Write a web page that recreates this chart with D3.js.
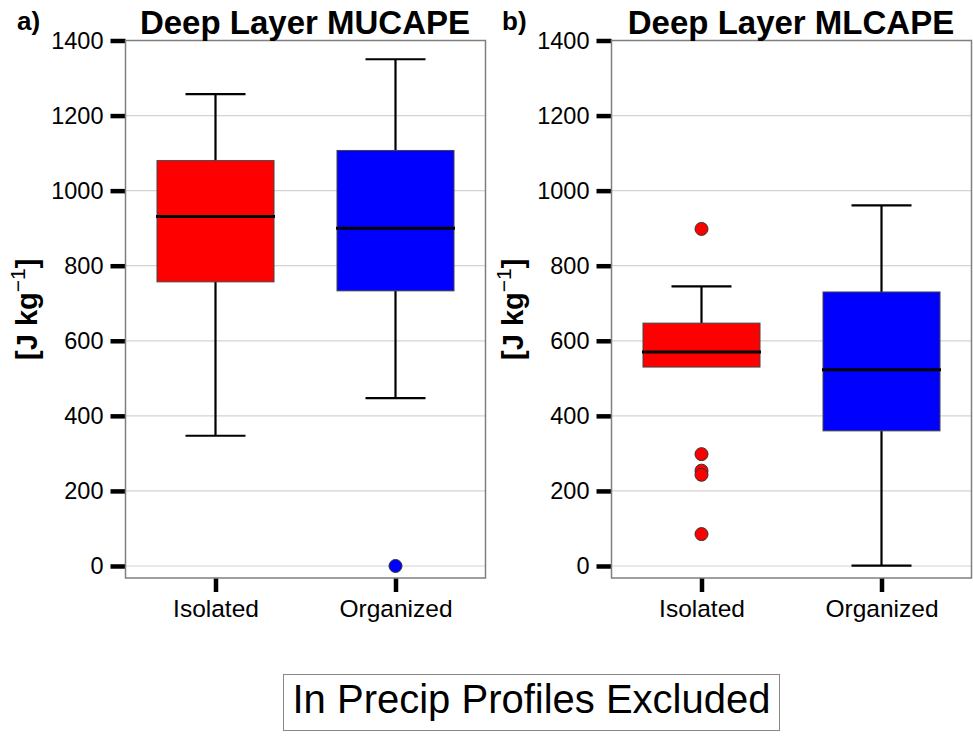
<!DOCTYPE html>
<html>
<head>
<meta charset="utf-8">
<script src="https://cdn.jsdelivr.net/npm/d3@7"></script>
<style>
  html, body { margin: 0; padding: 0; background: #fff; }
  svg { display: block; font-family: "Liberation Sans", Arial, sans-serif; }
</style>
</head>
<body>
<svg id="chart" width="973" height="740"></svg>
<script>
// ---- Data ----
const categories = ["Isolated", "Organized"];
const colors = ["#FF0000", "#0000FF"];
const yTicks = [0, 200, 400, 600, 800, 1000, 1200, 1400];

// Panel a: Deep Layer MUCAPE
const mucapeLow    = [347, 447];
const mucapeQ1     = [757, 733];
const mucapeMedian = [931, 900];
const mucapeQ3     = [1080, 1107];
const mucapeHigh   = [1257, 1350];
const mucapeOutliers = [[], [0]];

// Panel b: Deep Layer MLCAPE
const mlcapeLow    = [530, 1];
const mlcapeQ1     = [530, 360];
const mlcapeMedian = [570, 523];
const mlcapeQ3     = [647, 730];
const mlcapeHigh   = [745, 961];
const mlcapeOutliers = [[898, 298, 254, 243, 85], []];

const panels = [
  { tag: "a)", title: "Deep Layer MUCAPE", left: 125.5, right: 485.5,
    low: mucapeLow, q1: mucapeQ1, med: mucapeMedian, q3: mucapeQ3, high: mucapeHigh, out: mucapeOutliers,
    tagX: 17, titleX: 305, ytitleX: 37 },
  { tag: "b)", title: "Deep Layer MLCAPE", left: 611.5, right: 971.5,
    low: mlcapeLow, q1: mlcapeQ1, med: mlcapeMedian, q3: mlcapeQ3, high: mlcapeHigh, out: mlcapeOutliers,
    tagX: 502, titleX: 791, ytitleX: 523 }
];

const svg = d3.select("#chart");
const plotTop = 40.5, plotBottom = 578;
const y = d3.scaleLinear().domain([-32, 1400]).range([plotBottom, plotTop]);

panels.forEach(p => {
  const g = svg.append("g");
  const x = d3.scalePoint().domain(categories).range([p.left, p.right]).padding(0.5);
  const step = x.step();
  const boxW = step * 0.65;
  const capW = step / 3;

  // gridlines
  g.selectAll(null).data(yTicks).enter().append("line")
    .attr("x1", p.left).attr("x2", p.right)
    .attr("y1", d => y(d)).attr("y2", d => y(d))
    .attr("stroke", "#d3d3d3").attr("stroke-width", 1.2);

  // y axis
  const yAxis = d3.axisLeft(y).tickValues(yTicks).tickFormat(d3.format("d")).tickSize(15).tickPadding(7);
  const ya = g.append("g").attr("transform", `translate(${p.left},0)`).call(yAxis);
  ya.select(".domain").remove();
  ya.selectAll(".tick line").attr("stroke", "#000").attr("stroke-width", 4.5);
  ya.selectAll(".tick text").attr("font-size", 23.5).attr("fill", "#000")
    .attr("font-family", "Liberation Sans, Arial, sans-serif");

  // x axis
  const xAxis = d3.axisBottom(x).tickSize(14).tickPadding(8);
  const xa = g.append("g").attr("transform", `translate(0,${plotBottom})`).call(xAxis);
  xa.select(".domain").remove();
  xa.selectAll(".tick line").attr("stroke", "#000").attr("stroke-width", 4.5);
  xa.selectAll(".tick text").attr("font-size", 24.5).attr("fill", "#000")
    .attr("font-family", "Liberation Sans, Arial, sans-serif");

  // boxes
  categories.forEach((c, i) => {
    const cx = x(c);
    g.append("line").attr("x1", cx).attr("x2", cx)
      .attr("y1", y(p.q3[i])).attr("y2", y(p.high[i]))
      .attr("stroke", "#000").attr("stroke-width", 2.2);
    g.append("line").attr("x1", cx).attr("x2", cx)
      .attr("y1", y(p.q1[i])).attr("y2", y(p.low[i]))
      .attr("stroke", "#000").attr("stroke-width", 2.2);
    g.append("line").attr("x1", cx - capW / 2).attr("x2", cx + capW / 2)
      .attr("y1", y(p.high[i])).attr("y2", y(p.high[i]))
      .attr("stroke", "#000").attr("stroke-width", 2.2);
    if (p.low[i] !== p.q1[i]) {
      g.append("line").attr("x1", cx - capW / 2).attr("x2", cx + capW / 2)
        .attr("y1", y(p.low[i])).attr("y2", y(p.low[i]))
        .attr("stroke", "#000").attr("stroke-width", 2.2);
    }
    g.append("rect")
      .attr("x", cx - boxW / 2).attr("width", boxW)
      .attr("y", y(p.q3[i])).attr("height", y(p.q1[i]) - y(p.q3[i]))
      .attr("fill", colors[i]).attr("stroke", "#444").attr("stroke-width", 1);
    g.append("line").attr("x1", cx - boxW / 2 - 1).attr("x2", cx + boxW / 2 + 1)
      .attr("y1", y(p.med[i])).attr("y2", y(p.med[i]))
      .attr("stroke", "#000").attr("stroke-width", 3);
    g.selectAll(null).data(p.out[i]).enter().append("circle")
      .attr("cx", cx).attr("cy", d => y(d)).attr("r", 6.5)
      .attr("fill", colors[i]).attr("stroke", "#333").attr("stroke-width", 1);
  });

  // panel border
  g.append("rect").attr("x", p.left).attr("y", plotTop)
    .attr("width", p.right - p.left).attr("height", plotBottom - plotTop)
    .attr("fill", "none").attr("stroke", "#7f7f7f").attr("stroke-width", 1.5);

  // title
  g.append("text").attr("x", p.titleX).attr("y", 34).attr("text-anchor", "middle")
    .attr("font-size", 33).attr("font-weight", "bold").attr("fill", "#000").text(p.title);
  g.append("text").attr("x", p.tagX).attr("y", 30)
    .attr("font-size", 26).attr("font-weight", "bold").attr("fill", "#000").text(p.tag);

  // y title
  const yt = g.append("text")
    .attr("transform", `translate(${p.ytitleX},${(plotTop + plotBottom) / 2}) rotate(-90)`)
    .attr("text-anchor", "middle").attr("font-size", 29).attr("font-weight", "bold").attr("fill", "#000");
  yt.append("tspan").text("[J kg");
  yt.append("tspan").attr("dy", -12).attr("font-size", 21).attr("font-weight", "normal").text("\u22121");
  yt.append("tspan").attr("dy", 12).text("]");
});

// bottom caption box
const cap = svg.append("g");
cap.append("rect").attr("x", 283.5).attr("y", 674.5).attr("width", 496).attr("height", 56)
  .attr("fill", "#fff").attr("stroke", "#888").attr("stroke-width", 1);
cap.append("text").attr("x", 531.5).attr("y", 713).attr("text-anchor", "middle")
  .attr("font-size", 40).attr("fill", "#000").text("In Precip Profiles Excluded");
</script>
</body>
</html>
